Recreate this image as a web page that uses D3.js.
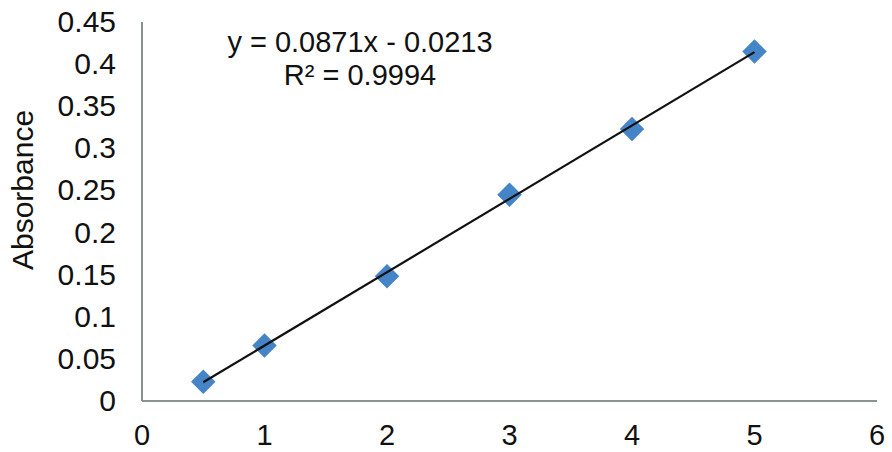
<!DOCTYPE html>
<html><head><meta charset="utf-8">
<script src="https://cdn.jsdelivr.net/npm/d3@7"></script>
<style>body{margin:0;background:#fff}svg{display:block}text{font-family:"Liberation Sans",Arial,sans-serif;fill:#111}</style>
</head><body>
<script>
const concentrations = [0.5, 1, 2, 3, 4, 5];
const absorbance = [0.023, 0.066, 0.148, 0.245, 0.323, 0.415];
const xTicks = [0, 1, 2, 3, 4, 5, 6];
const yTicks = [0, 0.05, 0.1, 0.15, 0.2, 0.25, 0.3, 0.35, 0.4, 0.45];
const slope = 0.0871, intercept = -0.0213;
const equationLines = ["y = 0.0871x - 0.0213", "R² = 0.9994"];
const yTitle = "Absorbance";

const W = 892, H = 452;
const svg = d3.select("body").append("svg").attr("width", W).attr("height", H);
const x = d3.scaleLinear().domain([0, 6]).range([142, 877]);
const y = d3.scaleLinear().domain([0, 0.45]).range([401, 22]);

// axes
svg.append("line").attr("x1", x(0)).attr("x2", x(6)).attr("y1", y(0)).attr("y2", y(0)).attr("stroke", "#8a9393").attr("stroke-width", 2);
svg.append("line").attr("x1", x(0)).attr("x2", x(0)).attr("y1", y(0)).attr("y2", y(0.45)).attr("stroke", "#8a9393").attr("stroke-width", 2);

svg.append("g").selectAll("text").data(xTicks).join("text")
  .attr("x", d => x(d)).attr("y", 445).attr("text-anchor", "middle")
  .attr("font-size", 29).text(d => d);
svg.append("g").selectAll("text").data(yTicks).join("text")
  .attr("x", 116).attr("y", d => y(d) + 10).attr("text-anchor", "end")
  .attr("font-size", 30).text(d => d3.format("")(+d.toFixed(2)));

svg.append("text").attr("transform", "translate(33,190) rotate(-90)").attr("text-anchor", "middle")
  .attr("font-size", 30).text(yTitle);

const x0 = d3.min(concentrations), x1 = d3.max(concentrations);

// markers
svg.append("g").selectAll("path").data(concentrations.map((c, i) => [c, absorbance[i]])).join("path")
  .attr("d", d3.symbol().type(d3.symbolSquare).size(300))
  .attr("transform", d => `translate(${x(d[0])},${y(d[1])}) rotate(45)`)
  .attr("fill", "#4584c6");

// trendline over markers
svg.append("line").attr("x1", x(x0)).attr("y1", y(slope * x0 + intercept))
  .attr("x2", x(x1)).attr("y2", y(slope * x1 + intercept))
  .attr("stroke", "#111").attr("stroke-width", 2.2);

svg.append("g").selectAll("text").data(equationLines).join("text")
  .attr("x", 360).attr("y", (d, i) => 52 + i * 33).attr("text-anchor", "middle")
  .attr("font-size", 29).text(d => d);
</script>
</body></html>
